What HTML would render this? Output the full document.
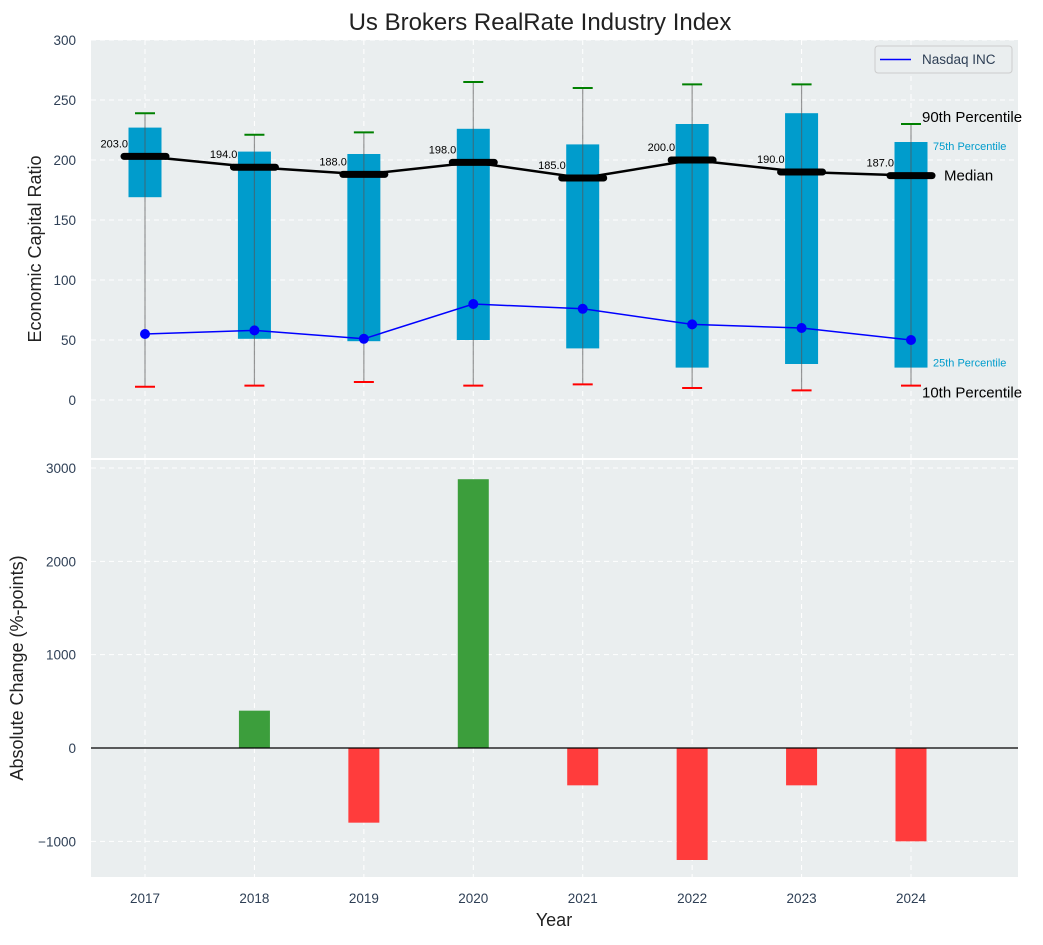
<!DOCTYPE html>
<html><head><meta charset="utf-8"><style>
body{margin:0;background:#fff;font-family:"Liberation Sans",Arial,sans-serif}
svg text{font-family:"Liberation Sans",Arial,sans-serif}
</style></head><body>
<svg id="c" width="1043" height="940"></svg>
<script>
const years=["2017","2018","2019","2020","2021","2022","2023","2024"];
const p10=[11,12,15,12,13,10,8,12];
const p25=[169,51,49,50,43,27,30,27];
const median=[203,194,188,198,185,200,190,187];
const p75=[227,207,205,226,213,230,239,215];
const p90=[239,221,223,265,260,263,263,230];
const nasdaq=[55,58,51,80,76,63,60,50];
const change=[0,400,-800,2880,-400,-1200,-400,-1000];
const topTicks=[0,50,100,150,200,250,300];
const botTicks=[-1000,0,1000,2000,3000];

const NS="http://www.w3.org/2000/svg";
const svg=document.getElementById('c');
function el(tag,attrs,parent){const e=document.createElementNS(NS,tag);for(const k in attrs)e.setAttribute(k,attrs[k]);(parent||svg).appendChild(e);return e;}
function txt(s,attrs,parent){const e=el('text',attrs,parent);e.textContent=s;return e;}
const L=91,R=1018;
const TC='#2e3f55';
const x=i=>145+(i)*(911-145)/7;
const yT=v=>400-v*1.2;
const yB=v=>748-v*0.09333;

let e;
e=el('rect',{x:L,y:40,width:R-L,height:418,fill:'#eaeeef'});

e=el('rect',{x:L,y:460,width:R-L,height:417,fill:'#eaeeef'});


years.forEach((y,i)=>{
 el('line',{x1:x(i),x2:x(i),y1:40,y2:458,stroke:'#fff','stroke-dasharray':'5,4','stroke-width':1});
 el('line',{x1:x(i),x2:x(i),y1:460,y2:877,stroke:'#fff','stroke-dasharray':'5,4','stroke-width':1});
 e=txt(y,{x:x(i),y:903,'text-anchor':'middle','font-size':13.5,fill:TC});
 
});
topTicks.forEach(v=>{
 el('line',{x1:L,x2:R,y1:yT(v),y2:yT(v),stroke:'#fff','stroke-dasharray':'5,4'});
 e=txt(String(v),{x:76,y:yT(v)+5,'text-anchor':'end','font-size':13.5,fill:TC});
 
});
botTicks.forEach(v=>{
 el('line',{x1:L,x2:R,y1:yB(v),y2:yB(v),stroke:'#fff','stroke-dasharray':'5,4'});
 e=txt(String(v).replace('-','\u2212'),{x:76,y:yB(v)+5,'text-anchor':'end','font-size':13.5,fill:TC});
 
});

years.forEach((y,i)=>{
 const cx=x(i);
 e=el('rect',{x:cx-16.5,y:yT(p75[i]),width:33,height:yT(p25[i])-yT(p75[i]),fill:'#009ccc'});
 
 el('line',{x1:cx,x2:cx,y1:yT(p90[i]),y2:yT(p10[i]),stroke:'#555','stroke-opacity':0.6,'stroke-width':1.2});
 e=el('line',{x1:cx-10,x2:cx+10,y1:yT(p90[i]),y2:yT(p90[i]),stroke:'green','stroke-width':2});
 
 e=el('line',{x1:cx-10,x2:cx+10,y1:yT(p10[i]),y2:yT(p10[i]),stroke:'red','stroke-width':2});
 
});
e=el('polyline',{points:median.map((v,i)=>x(i)+','+yT(v)).join(' '),fill:'none',stroke:'#000','stroke-width':2.5});

median.forEach((v,i)=>{
 e=el('line',{x1:x(i)-21,x2:x(i)+21,y1:yT(v),y2:yT(v),stroke:'#000','stroke-width':7,'stroke-linecap':'round'});
 
 e=txt(v.toFixed(1),{x:x(i)-17,y:yT(v)-9,'text-anchor':'end','font-size':11,fill:'#000'});
 
});
e=el('polyline',{points:nasdaq.map((v,i)=>x(i)+','+yT(v)).join(' '),fill:'none',stroke:'blue','stroke-width':1.5});

nasdaq.forEach((v,i)=>{e=el('circle',{cx:x(i),cy:yT(v),r:5,fill:'blue'});
 });

const li=7,lx=x(li);
e=txt('90th Percentile',{x:lx+11,y:yT(p90[li])-2,'font-size':15,fill:'#000'});
e=txt('75th Percentile',{x:lx+22,y:yT(p75[li])+8,'font-size':11,fill:'#009ccc'});
e=txt('Median',{x:lx+33,y:yT(median[li])+5,'font-size':15,fill:'#000'});
e=txt('25th Percentile',{x:lx+22,y:yT(p25[li])-1,'font-size':11,fill:'#009ccc'});
e=txt('10th Percentile',{x:lx+11,y:yT(p10[li])+12,'font-size':15,fill:'#000'});

const lg=el('g',{});

el('rect',{x:875,y:46,width:137,height:27,rx:3,fill:'#eaeeef',stroke:'#ccc'},lg);
el('line',{x1:880,x2:911,y1:59.5,y2:59.5,stroke:'blue','stroke-width':1.5},lg);
txt('Nasdaq INC',{x:922,y:64,'font-size':13.5,fill:TC},lg);

change.forEach((v,i)=>{
 const y0=yB(0),y1=yB(v);
 e=el('rect',{x:x(i)-15.5,y:Math.min(y0,y1),width:31,height:Math.abs(y1-y0),fill:v>=0?'#3c9e3c':'#ff3c3c'});
 
});
el('line',{x1:L,x2:R,y1:yB(0),y2:yB(0),stroke:'#000','stroke-width':1.2});

e=txt('Us Brokers RealRate Industry Index',{x:540,y:30,'text-anchor':'middle','font-size':24,fill:'#222'});

e=txt('Economic Capital Ratio',{x:0,y:0,'text-anchor':'middle','font-size':18,fill:'#222',transform:'translate(41,249) rotate(-90)'});

e=txt('Absolute Change (%-points)',{x:0,y:0,'text-anchor':'middle','font-size':18,fill:'#222',transform:'translate(23,668) rotate(-90)'});

e=txt('Year',{x:554,y:926,'text-anchor':'middle','font-size':18,fill:'#222'});

</script>
</body></html>
